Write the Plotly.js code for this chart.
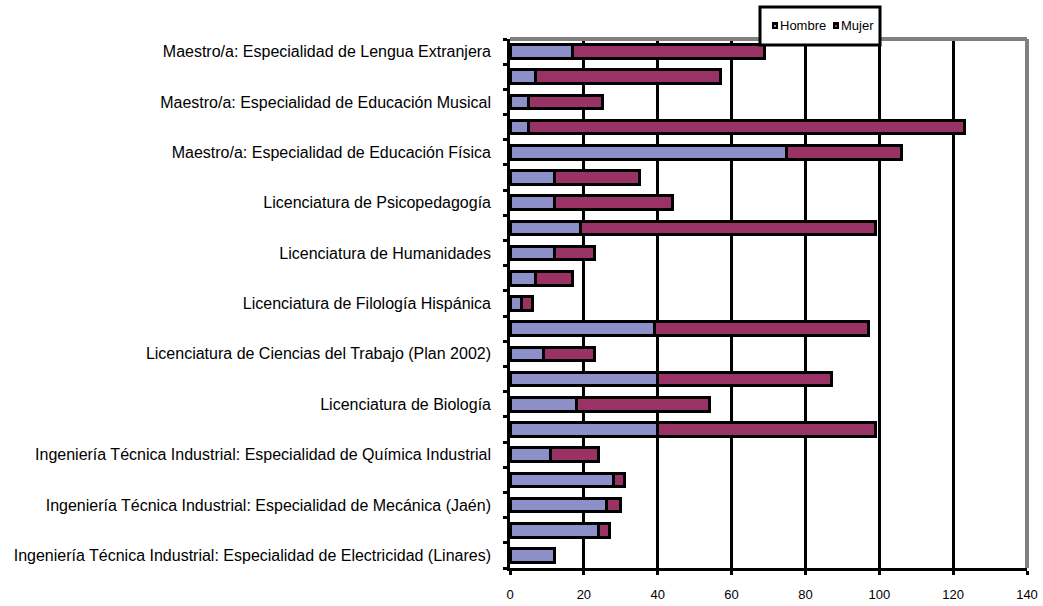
<!DOCTYPE html>
<html>
<head>
<meta charset="utf-8">
<script src="https://cdn.plot.ly/plotly-3.0.1.min.js"></script>
<style>html,body{margin:0;padding:0;background:#fff;}#chart{width:1043px;height:606px;}</style>
</head>
<body>
<div id="chart"></div>
<script>
// Categories from bottom to top; empty strings = categories whose labels are not shown
const labels = [
  "Ingeniería Técnica Industrial: Especialidad de Electricidad (Linares)",
  "",
  "Ingeniería Técnica Industrial: Especialidad de Mecánica (Jaén)",
  "",
  "Ingeniería Técnica Industrial: Especialidad de Química Industrial",
  "",
  "Licenciatura de Biología",
  "",
  "Licenciatura de Ciencias del Trabajo (Plan 2002)",
  "",
  "Licenciatura de Filología Hispánica",
  "",
  "Licenciatura de Humanidades",
  "",
  "Licenciatura de Psicopedagogía",
  "",
  "Maestro/a: Especialidad de Educación Física",
  "",
  "Maestro/a: Especialidad de Educación Musical",
  "",
  "Maestro/a: Especialidad de Lengua Extranjera"
];
const seriesNames = ["Hombre", "Mujer"];
const hombre = [12, 24, 26, 28, 11, 40, 18, 40, 9, 39, 3, 7, 12, 19, 12, 12, 75, 5, 5, 7, 17];
const mujer  = [0, 3, 4, 3, 13, 59, 36, 47, 14, 58, 3, 10, 11, 80, 32, 23, 31, 118, 20, 50, 52];
const xTicks = [0, 20, 40, 60, 80, 100, 120, 140];
const colors = ["#8c8fc8", "#993366"];

const W = 1043, H = 606;
const M = {l:510, r:16, t:39, b:38};
const PW = W - M.l - M.r, PH = H - M.t - M.b;
const px = x => (x - M.l) / PW;          // pixel -> paper x
const py = y => (H - M.b - y) / PH;      // pixel -> paper y

const pos = labels.map((_, i) => i);
const boundaries = labels.map((_, i) => i - 0.5).concat([labels.length - 0.5]);
const labeledPos = pos.filter(i => labels[i] !== "");
const labeledText = labeledPos.map(i => labels[i]);

const traces = [
  {type:'bar', orientation:'h', name:seriesNames[0], x:hombre, y:pos,
   marker:{color:colors[0], line:{color:'#000', width:3}}},
  {type:'bar', orientation:'h', name:seriesNames[1], x:mujer, y:pos,
   marker:{color:colors[1], line:{color:'#000', width:3}}},
  {type:'scatter', x:[0], y:[0], yaxis:'y2', mode:'markers',
   marker:{opacity:0}, showlegend:false, hoverinfo:'skip'}
];

// manual legend (box, symbols, text)
const shapes = [
  {type:'line', xref:'paper', yref:'paper', x0:0, x1:1, y0:1, y1:1, line:{color:'#808080', width:4}, layer:'above'},
  {type:'line', xref:'paper', yref:'paper', x0:1, x1:1, y0:0, y1:1, line:{color:'#808080', width:4}, layer:'above'},
  {type:'rect', xref:'paper', yref:'paper', x0:px(760), x1:px(880), y0:py(45), y1:py(7),
   fillcolor:'#fff', line:{color:'#000', width:3}, layer:'above'}
];
const annotations = [];
const legendX = [772, 833];
seriesNames.forEach((n, i) => {
  const x0 = legendX[i];
  shapes.push({type:'rect', xref:'paper', yref:'paper', x0:px(x0), x1:px(x0+6), y0:py(29), y1:py(22),
               fillcolor:'#000', line:{width:0}, layer:'above'});
  shapes.push({type:'rect', xref:'paper', yref:'paper', x0:px(x0+2), x1:px(x0+4), y0:py(27), y1:py(25),
               fillcolor:colors[i], line:{width:0}, layer:'above'});
  annotations.push({xref:'paper', yref:'paper', x:px(x0+6), y:py(26), xanchor:'left', yanchor:'middle',
                    text:n, showarrow:false, font:{size:13, color:'#000'}});
});

const layout = {
  width:W, height:H,
  margin:{l:M.l, r:M.r, t:M.t, b:M.b, pad:0, autoexpand:false},
  paper_bgcolor:'#fff', plot_bgcolor:'#fff',
  barmode:'stack', bargap:0.46,
  font:{family:'Liberation Sans, Arial, sans-serif', color:'#000'},
  showlegend:false,
  xaxis:{range:[0,140], tickvals:xTicks, showgrid:true, gridcolor:'#000', gridwidth:3,
         zeroline:false, showline:true, linecolor:'#000', linewidth:3,
         ticks:'outside', ticklen:4, tickwidth:3, tickcolor:'#000',
         tickfont:{size:13}, ticklabelstandoff:8, fixedrange:true},
  yaxis:{range:[-0.5, labels.length - 0.5], tickvals:boundaries, showticklabels:false,
         ticks:'outside', ticklen:4, tickwidth:3, tickcolor:'#000',
         showgrid:false, zeroline:false, showline:true, linecolor:'#000', linewidth:3},
  yaxis2:{overlaying:'y', side:'left', range:[-0.5, labels.length - 0.5],
          tickvals:labeledPos, ticktext:labeledText, ticks:'', showgrid:false,
          zeroline:false, showline:false, tickfont:{size:16}, ticklabelstandoff:18},
  shapes:shapes,
  annotations:annotations
};

Plotly.newPlot('chart', traces, layout, {displayModeBar:false, staticPlot:true});
</script>
</body>
</html>
